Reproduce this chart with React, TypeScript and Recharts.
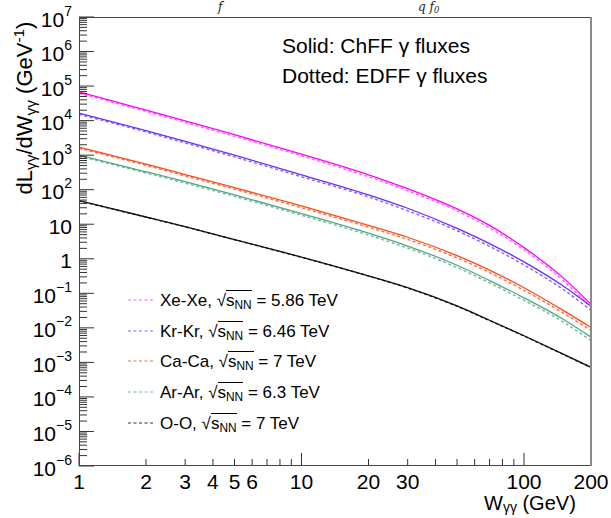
import React from "react";
import { LineChart, Line, XAxis, YAxis } from "recharts";

const W_GG = [1, 2, 3, 5, 10, 20, 30, 50, 70, 100, 150, 200];

// photon fluxes: ChFF (solid) and EDFF (dotted)
const XE_CHFF = [67600, 20000, 9800, 3900, 1070, 270, 107, 28, 9.3, 2.1, 0.28, 0.048];
const XE_EDFF = [63000, 18400, 8900, 3500, 955, 237, 93, 24.3, 7.9, 1.8, 0.234, 0.039];
const KR_CHFF = [16600, 5100, 2500, 1000, 270, 71, 29, 7.6, 2.75, 0.81, 0.162, 0.042];
const KR_EDFF = [15100, 4700, 2260, 890, 237, 62, 24.5, 6.5, 2.3, 0.66, 0.129, 0.032];
const CA_CHFF = [1700, 550, 275, 115, 34, 9.3, 4.2, 1.23, 0.47, 0.145, 0.032, 0.0102];
const CA_EDFF = [1580, 507, 251, 104, 30, 8.2, 3.63, 1.06, 0.4, 0.122, 0.027, 0.0085];
const AR_CHFF = [1000, 330, 170, 71, 20.4, 5.5, 2.34, 0.65, 0.234, 0.074, 0.0178, 0.0054];
const AR_EDFF = [933, 305, 155, 64, 18.2, 4.84, 2.04, 0.556, 0.2, 0.0624, 0.0148, 0.0043];
const O_CHFF = [48, 16.2, 8.5, 3.6, 1.12, 0.32, 0.145, 0.043, 0.0166, 0.0059, 0.00174, 0.00072];
const O_EDFF = [47.5, 16.0, 8.4, 3.56, 1.1, 0.315, 0.142, 0.042, 0.0163, 0.0058, 0.00171, 0.00071];

const X_TICKS = [1, 2, 3, 4, 5, 6, 7, 8, 9, 10, 20, 30, 40, 50, 60, 70, 80, 90, 100, 200];
const X_LABELS = [1, 2, 3, 4, 5, 6, 10, 20, 30, 100, 200];
const X_MAJOR = [1, 10, 100];
const Y_DECADES = [-6, -5, -4, -3, -2, -1, 0, 1, 2, 3, 4, 5, 6, 7];

const SERIES = [
	{ key: "xe", name: "Xe-Xe", energy: "5.86", color: "#ff00ff", light: "#ff5cff", solid: XE_CHFF, dotted: XE_EDFF },
	{ key: "kr", name: "Kr-Kr", energy: "6.46", color: "#6a2cff", light: "#8a5cff", solid: KR_CHFF, dotted: KR_EDFF },
	{ key: "ca", name: "Ca-Ca", energy: "7", color: "#ff4a14", light: "#ff6a40", solid: CA_CHFF, dotted: CA_EDFF },
	{ key: "ar", name: "Ar-Ar", energy: "6.3", color: "#4fa67f", light: "#6fba98", solid: AR_CHFF, dotted: AR_EDFF },
	{ key: "o", name: "O-O", energy: "7", color: "#111111", light: "#333333", solid: O_CHFF, dotted: O_EDFF },
];

const data = W_GG.map((w, i) => {
	const row: Record<string, number> = { w };
	SERIES.forEach((s) => {
		row[s.key] = s.solid[i];
		row[s.key + "D"] = s.dotted[i];
	});
	return row;
});

const yTicks: number[] = [];
Y_DECADES.forEach((n) => {
	for (let k = 1; k <= 9; k++) {
		if (n === 7 && k > 1) break;
		yTicks.push(k * Math.pow(10, n));
	}
});

const FONT = '"Liberation Sans", Arial, Helvetica, sans-serif';
const AXIS = "#333";

function XTick(props: any) {
	const { x, y, payload } = props;
	const v = payload.value;
	const len = X_MAJOR.includes(v) ? 13 : 7;
	return (
		<g>
			<line x1={x} x2={x} y1={y} y2={y - len} stroke={AXIS} strokeWidth={1} />
			{X_LABELS.includes(v) && (
				<text x={x} y={y + 23} textAnchor="middle" fontSize={21} fontFamily={FONT} fill="#000">
					{v}
				</text>
			)}
		</g>
	);
}

function YTick(props: any) {
	const { x, y, payload } = props;
	const v = payload.value;
	const n = Math.round(Math.log10(v));
	const major = Math.abs(v / Math.pow(10, n) - 1) < 1e-6;
	const len = major ? 15 : 8;
	let label = null;
	if (major) {
		label =
			n === 0 || n === 1 ? (
				<text x={x - 7} y={y + 9.5} textAnchor="end" fontSize={21} fontFamily={FONT} fill="#000">
					{n === 0 ? "1" : "10"}
				</text>
			) : (
				<text x={x - 7} y={y + 9.5} textAnchor="end" fontSize={21} fontFamily={FONT} fill="#000">
					10
					<tspan dy={-11} fontSize={14}>
						{n < 0 ? "\u2212" + -n : n}
					</tspan>
				</text>
			);
	}
	return (
		<g>
			<line x1={x} x2={x + len} y1={y} y2={y} stroke={AXIS} strokeWidth={1} />
			{label}
		</g>
	);
}

const txt = (left: number, baseline: number, size: number, extra: any = {}) => ({
	position: "absolute" as const,
	left,
	top: baseline - 0.85 * size,
	fontSize: size,
	lineHeight: 1,
	whiteSpace: "nowrap" as const,
	fontFamily: FONT,
	color: "#000",
	...extra,
});

const LEGEND_BASE = [306, 337, 367, 398, 429];

export default function App() {
	return (
		<div style={{ position: "absolute", left: 0, top: 0, width: 611, height: 518, overflow: "hidden", background: "#fff" }}>
			<LineChart width={611} height={518} data={data} margin={{ top: 17, right: 20, bottom: 0, left: 0 }}>
				<XAxis
					dataKey="w"
					type="number"
					scale="log"
					domain={[1, 200]}
					allowDataOverflow
					ticks={X_TICKS}
					interval={0}
					tick={(p: any) => <XTick {...p} />}
					tickLine={false}
					axisLine={false}
					tickSize={0}
					tickMargin={0}
					height={52}
				/>
				<YAxis
					type="number"
					scale="log"
					domain={[1e-6, 1e7]}
					allowDataOverflow
					ticks={yTicks}
					interval={0}
					tick={(p: any) => <YTick {...p} />}
					tickLine={false}
					axisLine={false}
					tickSize={0}
					tickMargin={0}
					width={79}
				/>
				{SERIES.map((s) => (
					<Line
						key={s.key + "D"}
						dataKey={s.key + "D"}
						type="monotone"
						stroke={s.light}
						strokeWidth={1.4}
						strokeDasharray="3 2.5"
						dot={false}
						isAnimationActive={false}
					/>
				))}
				{SERIES.map((s) => (
					<Line
						key={s.key}
						dataKey={s.key}
						type="monotone"
						stroke={s.color}
						strokeWidth={1.3}
						dot={false}
						isAnimationActive={false}
					/>
				))}
			</LineChart>

			<svg width={611} height={518} style={{ position: "absolute", left: 0, top: 0, pointerEvents: "none" }}>
				<rect x={79.5} y={17.5} width={511} height={448} fill="none" stroke="#444" strokeWidth={1} />
				<line x1={591} x2={591} y1={17} y2={466} stroke="#8a8a8a" strokeWidth={2} />
				{SERIES.map((s, i) => (
					<line
						key={s.key}
						x1={128}
						x2={155}
						y1={LEGEND_BASE[i] - 6}
						y2={LEGEND_BASE[i] - 6}
						stroke={s.light}
						strokeWidth={1.2}
						strokeDasharray="3 2.5"
					/>
				))}
			</svg>

			{/* remnants of the formula above the frame */}
			<div style={txt(218, 11, 12, { fontFamily: '"DejaVu Serif", serif', fontStyle: "italic", color: "#222" })}>f</div>
			<div style={txt(418, 11, 12, { fontFamily: '"DejaVu Serif", serif', fontStyle: "italic", color: "#222" })}>
				q&nbsp;f<sub style={{ fontSize: "0.7em", verticalAlign: "-0.2em" }}>0</sub>
			</div>

			<div style={txt(282, 53, 21)}>Solid: ChFF γ fluxes</div>
			<div style={txt(282, 83, 21)}>Dotted: EDFF γ fluxes</div>

			{SERIES.map((s, i) => (
				<div key={s.key} style={txt(160, LEGEND_BASE[i], 17)}>
					{s.name}, √
					<span style={{ borderTop: "1px solid #000" }}>
						s<sub style={{ fontSize: "0.7em", verticalAlign: "-0.25em" }}>NN</sub>
					</span>{" "}
					= {s.energy} TeV
				</div>
			))}

			<div
				style={{
					position: "absolute",
					left: 25,
					top: 108,
					transform: "translate(-50%, -50%) rotate(-90deg)",
					fontSize: 22,
					lineHeight: 1,
					whiteSpace: "nowrap",
					fontFamily: FONT,
				}}
			>
				dL<sub style={{ fontSize: "0.7em", verticalAlign: "-0.3em" }}>γγ</sub>/dW
				<sub style={{ fontSize: "0.7em", verticalAlign: "-0.3em" }}>γγ</sub> (GeV
				<sup style={{ fontSize: "0.7em", verticalAlign: "0.5em" }}>-1</sup>)
			</div>

			<div style={txt(484, 510, 20)}>
				W<sub style={{ fontSize: "0.7em", verticalAlign: "-0.15em" }}>γγ</sub> (GeV)
			</div>
		</div>
	);
}
